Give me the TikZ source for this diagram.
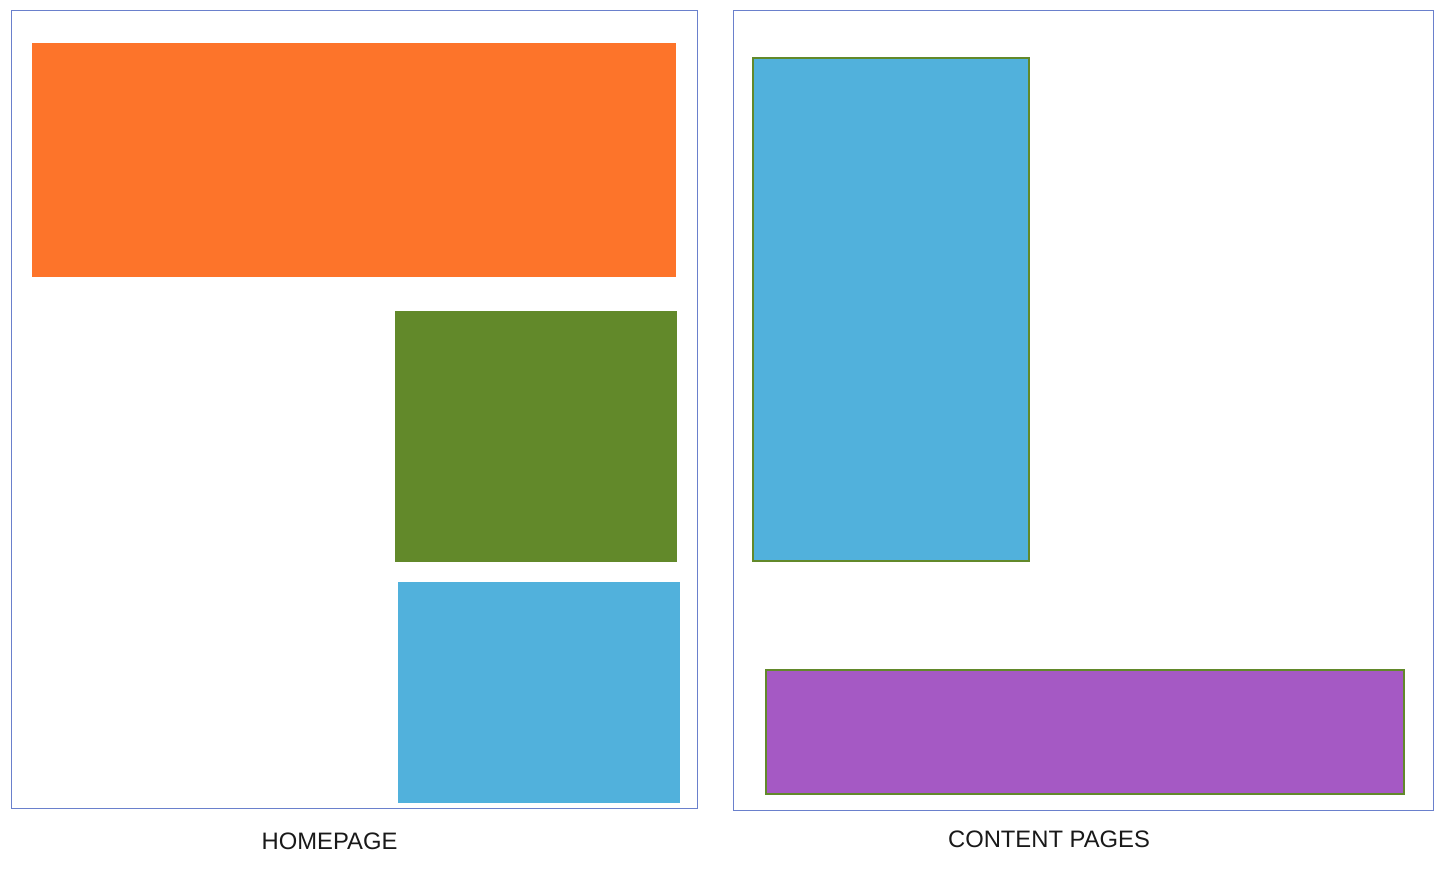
\documentclass[tikz,border=0pt]{standalone}
\usepackage{fontspec}
\setmainfont{Liberation Sans}
\definecolor{framecol}{HTML}{6A80CC}
\definecolor{orangecol}{HTML}{FD742A}
\definecolor{greencol}{HTML}{62892A}
\definecolor{bluecol}{HTML}{51B1DC}
\definecolor{purplecol}{HTML}{A559C4}
\begin{document}
\begin{tikzpicture}[x=1pt, y=-1pt,
    pageframe/.style={draw=framecol, line width=1pt},
    block/.style={line width=1.2pt},
    caption/.style={font=\fontsize{23.8}{28}\selectfont, text=black!90, inner sep=0pt}]

            % Canvas
            \useasboundingbox (0,0) rectangle (1442,868);

            % Frames
            \draw[pageframe] (11,10) rectangle (697,808);
            \draw[pageframe] (733,10) rectangle (1433,810);

            % Homepage blocks
            \fill[orangecol] (32,43) rectangle (676,277);
            \fill[greencol] (395,311) rectangle (677,562);
            \fill[bluecol] (398,582) rectangle (680,803);

            % Content page blocks
            \filldraw[block, fill=bluecol, draw=greencol] (753,58) rectangle (1029,561);
            \filldraw[block, fill=purplecol, draw=greencol] (766,670) rectangle (1404,794);

            % Captions
            \node[caption] (home) at (329.5,841) {HOMEPAGE};
            \node[caption] (content) at (1049,839) {CONTENT PAGES};

        \end{tikzpicture}
\end{document}
